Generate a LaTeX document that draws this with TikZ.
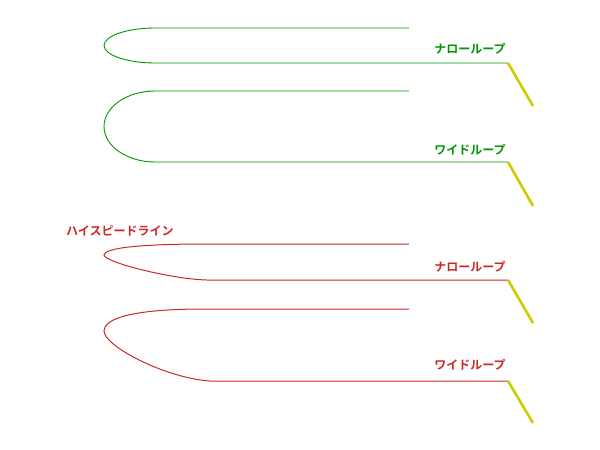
\documentclass[tikz,border=0pt]{standalone}
\usepackage{fontspec}
\newfontfamily\jpfont{Noto Sans CJK JP}[BoldFont={Noto Sans CJK JP Bold}]
\definecolor{lgreen}{RGB}{0,150,0}
\definecolor{lred}{RGB}{205,40,40}
\definecolor{lyellow}{RGB}{204,204,0}
\tikzset{
  gloop/.style={draw=lgreen, line width=0.9pt},
  rloop/.style={draw=lred, line width=1pt},
  tail/.style={draw=lyellow, line width=2.6pt},
  glabel/.style={text=lgreen, font=\jpfont\bfseries\fontsize{12}{14}\selectfont, inner sep=0pt},
  rlabel/.style={text=lred, font=\jpfont\bfseries\fontsize{12}{14}\selectfont, inner sep=0pt}
}
\begin{document}
\begin{tikzpicture}[x=1pt,y=-1pt]
\useasboundingbox (0,0) rectangle (600,450);
% loop 1 green narrow
\coordinate (a1) at (409,28);
\coordinate (b1) at (155,28);
\coordinate (c1) at (155,63);
\coordinate (d1) at (508,63);
\coordinate (e1) at (533,106);
\draw[gloop] (a1) -- (b1) .. controls (127,28) and (104,36) .. (104,45.5) .. controls (104,55) and (127,63) .. (c1) -- (d1);
\draw[tail] (d1) -- (e1);
\node[glabel] (t1) at (470,49) {ナローループ};
% loop 2 green wide
\coordinate (a2) at (409,91);
\coordinate (b2) at (155,91);
\coordinate (c2) at (155,162);
\coordinate (d2) at (508,162);
\coordinate (e2) at (533,206);
\draw[gloop] (a2) -- (b2) .. controls (127,91) and (104,107) .. (104,126.5) .. controls (104,146) and (127,162) .. (c2) -- (d2);
\draw[tail] (d2) -- (e2);
\node[glabel] (t2) at (470,150) {ワイドループ};
% title
\node[rlabel, anchor=west] (title) at (66,231) {ハイスピードライン};
% loop 3 red narrow
\coordinate (a3) at (409,244);
\coordinate (b3) at (205,244);
\coordinate (c3) at (207,280);
\coordinate (d3) at (508,280);
\coordinate (e3) at (533,323);
\draw[rloop] (a3) -- (b3) .. controls (140,244) and (104,248) .. (104,255) .. controls (104,262) and (170,279) .. (c3) -- (d3);
\draw[tail] (d3) -- (e3);
\node[rlabel] (t3) at (470,267) {ナローループ};
% loop 4 red wide
\coordinate (a4) at (409,309);
\coordinate (b4) at (205,309);
\coordinate (c4) at (210,381);
\coordinate (d4) at (508,381);
\coordinate (e4) at (533,423);
\draw[rloop] (a4) -- (b4) .. controls (130,309) and (104,319) .. (104,331) .. controls (104,346) and (165,378) .. (c4) -- (d4);
\draw[tail] (d4) -- (e4);
\node[rlabel] (t4) at (470,365) {ワイドループ};
\end{tikzpicture}
\end{document}
